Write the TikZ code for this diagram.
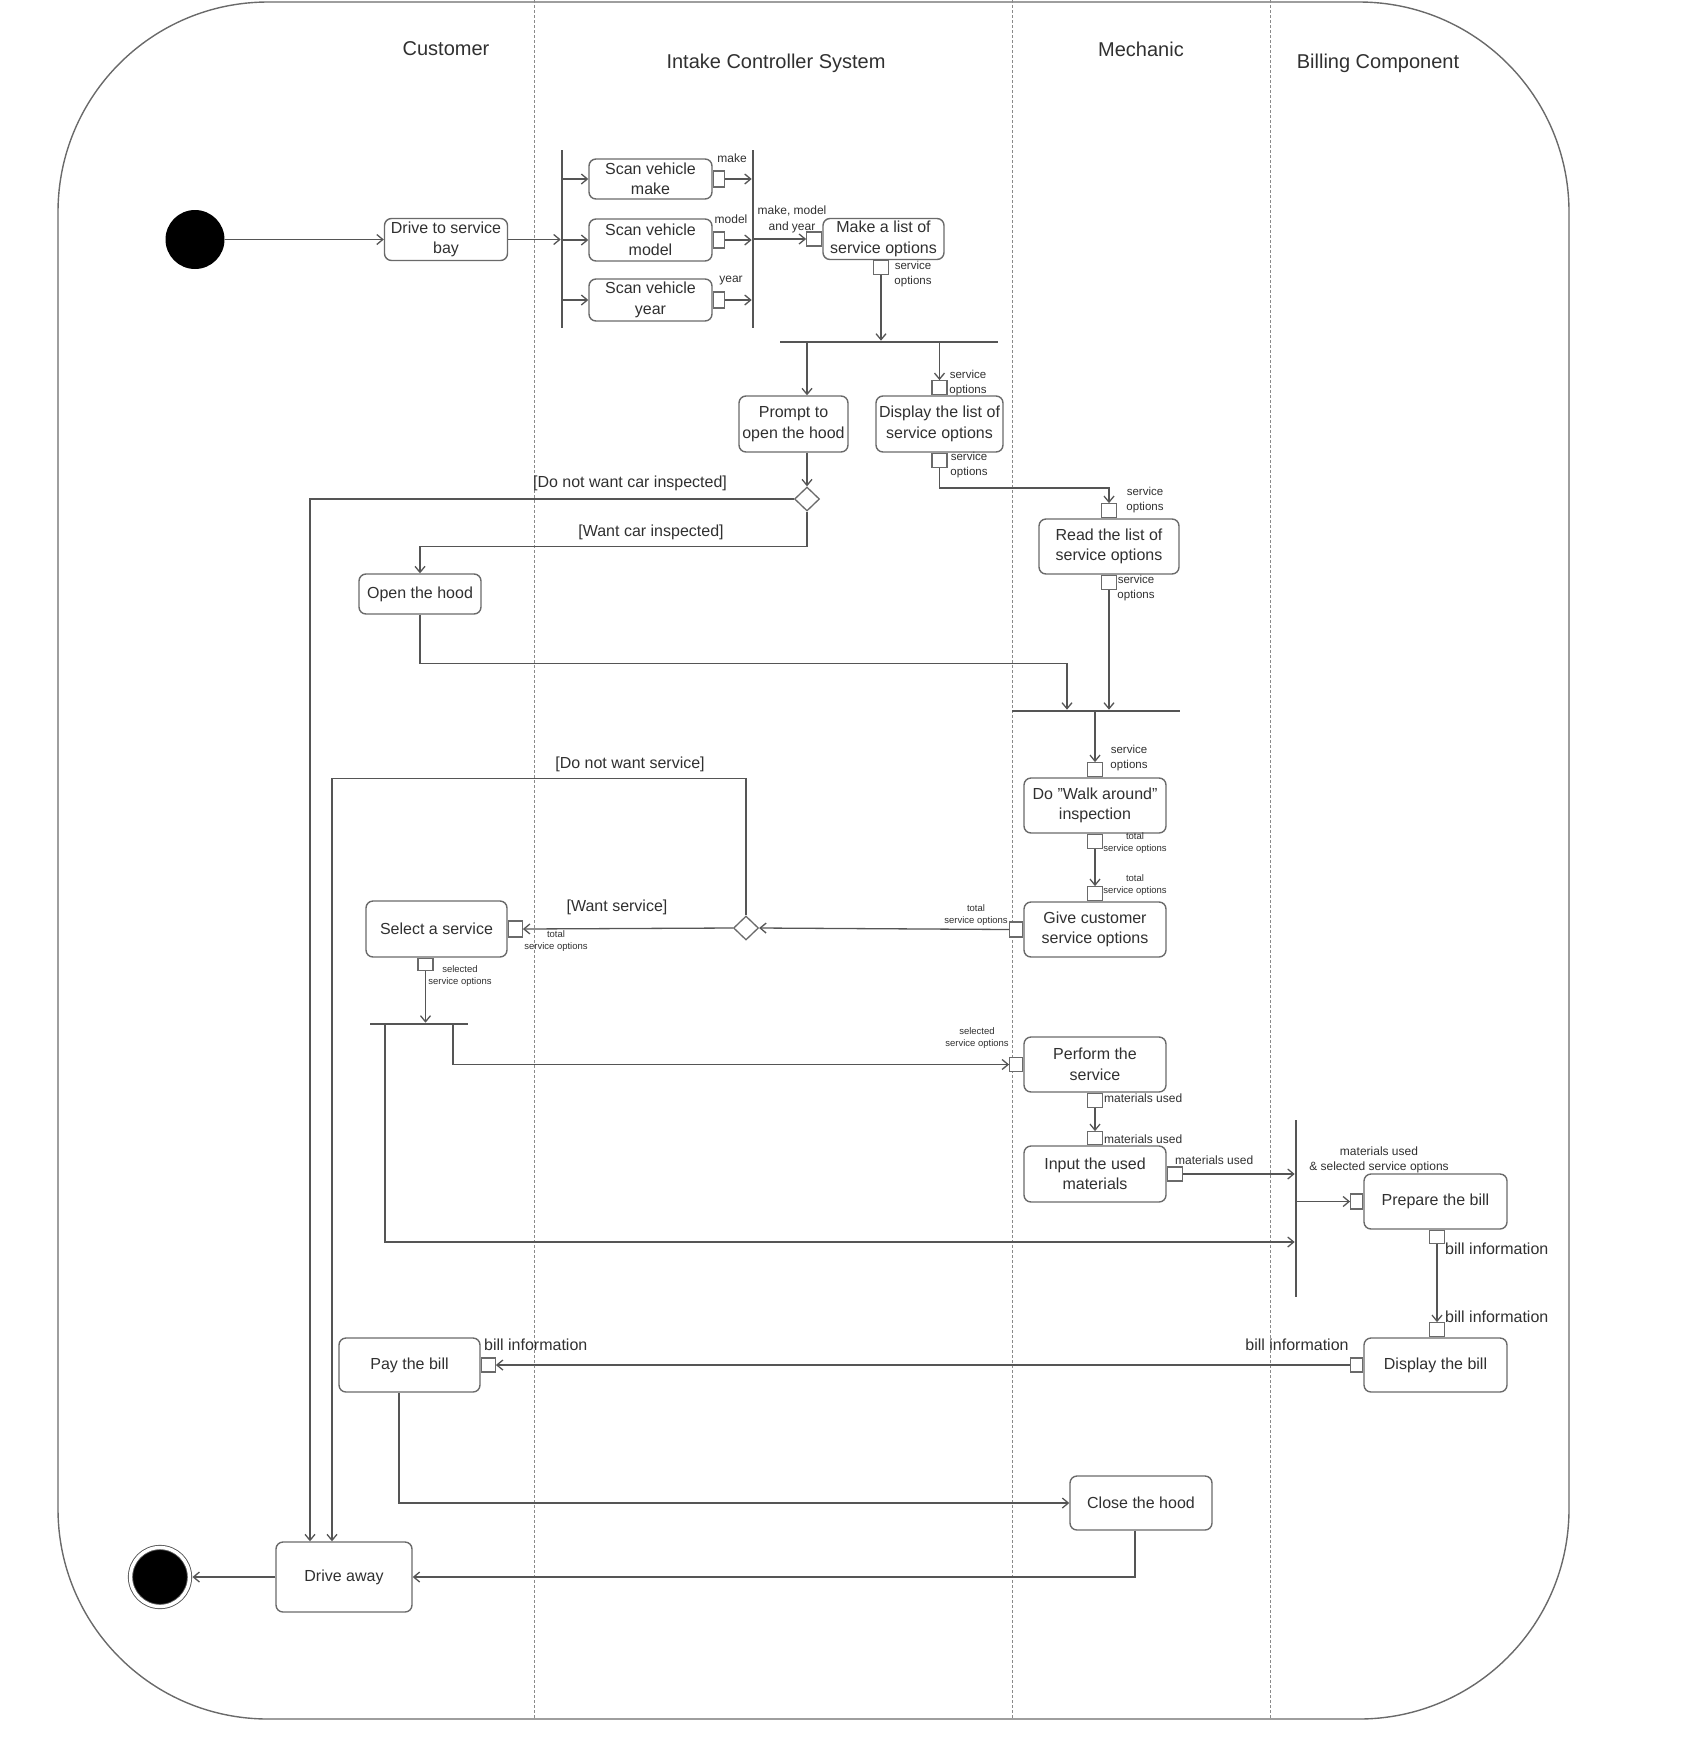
\documentclass[tikz,border=0pt]{standalone}
\usepackage{fontspec}
\setmainfont{Liberation Sans}
\usepackage{xcolor}
\usetikzlibrary{arrows.meta, shapes.geometric, positioning, calc}
\definecolor{linegray}{HTML}{555555}
\definecolor{boxgray}{HTML}{6A6A6A}
\definecolor{textgray}{HTML}{303030}
\definecolor{lanegray}{HTML}{8A8A8A}
\tikzset{
    roundnode/.style = {draw=boxgray, rectangle, rounded corners=7pt, line width=1.4pt, inner sep=0pt, 
      align=center, text=textgray, font=\fontsize{16}{20.5}\selectfont},
    pinnode/.style = {draw=boxgray, fill=white, rectangle, line width=1.2pt, inner sep=0pt, 
      minimum width=15pt, minimum height=14pt},
    barnode/.style = {fill=linegray, rectangle, inner sep=0pt},
    decisionnode/.style = {draw=boxgray, fill=white, diamond, line width=1.3pt, inner sep=0pt, 
      minimum width=25pt, minimum height=24pt},
    dotnode/.style = {fill=black, circle, inner sep=0pt, minimum size=59pt},
    endnode/.style = {fill=black, circle, inner sep=0pt, minimum size=59pt, draw=linegray, 
      line width=0.9pt, double=white, double distance=3.4pt},
    titlenode/.style = {text=textgray, inner sep=0pt, font=\fontsize{20}{24}\selectfont},
    textnode/.style  = {text=textgray, inner sep=0pt, align=center, font=\fontsize{16}{20}\selectfont},
    smalltextnode/.style = {text=textgray, inner sep=0pt, align=center, font=\fontsize{12}{15.5}\selectfont},
    pintextnode/.style = {text=textgray, inner sep=0pt, align=center, font=\fontsize{11.5}{15}\selectfont},
    tinytextnode/.style = {text=textgray, inner sep=0pt, align=center, font=\fontsize{9.5}{12}\selectfont},
    connect/.style = {draw=linegray, line width=1.3pt, -{Straight Barb[length=6pt, width=10pt]}},
    lane/.style = {draw=lanegray, line width=1pt, dash pattern=on 2.5pt off 2.5pt}
}
\begin{document}
\begin{tikzpicture}[x=1pt, y=-1pt]
\useasboundingbox (0,0) rectangle (1700,1743);
\draw[draw=boxgray, line width=1.4pt, rounded corners=210pt] (58,2) rectangle (1569,1719);
\foreach \x in {534,1012,1270} \draw[lane] (\x,0) -- (\x,1719);

\node[titlenode, name=customer] at (446,49) {Customer};
\node[titlenode, name=intake] at (776,63) {Intake Controller System};
\node[titlenode, name=mechanic] at (1141,49) {Mechanic};
\node[titlenode, name=billing] at (1378,63) {Billing Component};

\node[dotnode, name=init] at (195,239.5) {};
\node[roundnode, name=drive, minimum width=123pt, minimum height=42pt] at (446,239.5) {Drive to service\\bay};
\node[barnode, name=forkA, minimum width=2.2pt, minimum height=178pt] at (562,239) {};
\node[roundnode, name=scanmake, minimum width=123pt, minimum height=40pt] at (650.5,179) {Scan vehicle\\make};
\node[roundnode, name=scanmodel, minimum width=123pt, minimum height=42pt] at (650.5,240) {Scan vehicle\\model};
\node[roundnode, name=scanyear, minimum width=123pt, minimum height=42pt] at (650.5,300) {Scan vehicle\\year};
\node[pinnode, name=makepin, right=0pt of scanmake, minimum width=11pt, minimum height=16pt] {};
\node[pinnode, name=modelpin, right=0pt of scanmodel, minimum width=11pt, minimum height=16pt] {};
\node[pinnode, name=yearpin, right=0pt of scanyear, minimum width=11pt, minimum height=16pt] {};
\node[barnode, name=joinA, minimum width=2.2pt, minimum height=178pt] at (753,239) {};
\node[roundnode, name=makelist, minimum width=121pt, minimum height=41pt] at (883.5,239) {Make a list of\\service options};
\node[pinnode, name=listin, left=0pt of makelist] {};
\node[pinnode, name=listout, below=0pt of makelist, xshift=-2.5pt] {};
\node[barnode, name=forkB, minimum width=218pt, minimum height=2.2pt] at (889,342) {};
\node[roundnode, name=prompt, minimum width=109pt, minimum height=56pt] at (793.5,424) {Prompt to\\open the hood};
\node[roundnode, name=display, minimum width=127pt, minimum height=56pt] at (939.5,424) {Display the list of\\service options};
\node[pinnode, name=dispin, above=0pt of display] {};
\node[pinnode, name=dispout, below=0pt of display] {};
\node[decisionnode, name=diam1] at (807,499) {};
\node[roundnode, name=openhood, minimum width=122pt, minimum height=40pt] at (420,594) {Open the hood};
\node[roundnode, name=read, minimum width=140pt, minimum height=55pt] at (1109,546.5) {Read the list of\\service options};
\node[pinnode, name=readin, above=0pt of read] {};
\node[pinnode, name=readout, below=0pt of read] {};
\node[barnode, name=joinB, minimum width=168pt, minimum height=2.2pt] at (1096,711) {};
\node[roundnode, name=walk, minimum width=142pt, minimum height=55pt] at (1095,805.5) {Do "Walk around"\\inspection};
\node[pinnode, name=walkin, above=0pt of walk] {};
\node[pinnode, name=walkout, below=0pt of walk] {};
\node[roundnode, name=give, minimum width=142pt, minimum height=55pt] at (1095,929.5) {Give customer\\service options};
\node[pinnode, name=givein, above=0pt of give] {};
\node[pinnode, name=giveout, left=0pt of give, minimum width=13pt, minimum height=15pt] {};
\node[decisionnode, name=diam2] at (746,928) {};
\node[roundnode, name=select, minimum width=141pt, minimum height=56pt] at (436.5,929) {Select a service};
\node[pinnode, name=selin, right=0pt of select, minimum width=14pt, minimum height=16pt] {};
\node[pinnode, name=selout, below=0pt of select, xshift=-11pt, minimum height=12pt] {};
\node[barnode, name=forkC, minimum width=98pt, minimum height=2.2pt] at (419,1024) {};
\node[roundnode, name=perform, minimum width=142pt, minimum height=55pt] at (1095,1064.5) {Perform the\\service};
\node[pinnode, name=perfin, left=0pt of perform, minimum width=13pt] {};
\node[pinnode, name=perfout, below=0pt of perform] {};
\node[roundnode, name=input, minimum width=142pt, minimum height=56pt] at (1095,1174) {Input the used\\materials};
\node[pinnode, name=inpin, above=0pt of input, minimum height=13pt] {};
\node[pinnode, name=inout, right=0pt of input] {};
\node[barnode, name=joinC, minimum width=2.2pt, minimum height=177pt] at (1296,1208.5) {};
\node[roundnode, name=prepare, minimum width=143pt, minimum height=55pt] at (1435.5,1201.5) {Prepare the bill};
\node[pinnode, name=prepin, left=0pt of prepare, minimum width=12pt, minimum height=15pt] {};
\node[pinnode, name=prepout, below=0pt of prepare, xshift=1.5pt, minimum height=13pt] {};
\node[roundnode, name=dispbill, minimum width=143pt, minimum height=54pt] at (1435.5,1365) {Display the bill};
\node[pinnode, name=dispbin, above=0pt of dispbill, xshift=1.5pt] {};
\node[pinnode, name=dispbout, left=0pt of dispbill, minimum width=12pt] {};
\node[roundnode, name=pay, minimum width=141pt, minimum height=54pt] at (409.5,1365) {Pay the bill};
\node[pinnode, name=payin, right=0pt of pay, minimum width=14pt] {};
\node[roundnode, name=close, minimum width=142pt, minimum height=54pt] at (1141,1503) {Close the hood};
\node[roundnode, name=driveaway, minimum width=136pt, minimum height=70pt] at (344,1577) {Drive away};
\node[endnode, name=final] at (160,1577) {};

\node[smalltextnode, name=makelbl] at (732,158) {make};
\node[smalltextnode, name=modellbl] at (731,219) {model};
\node[smalltextnode, name=yearlbl] at (731,281) {year};
\node[smalltextnode, name=mmylbl, font=\fontsize{12}{16}\selectfont] at (792,219) {make, model\\and year};
\node[pintextnode, name=listlbl] at (913,274) {service\\options};
\node[pintextnode, name=dispinlbl] at (968,383) {service\\options};
\node[pintextnode, name=dispoutlbl] at (969,465) {service\\options};
\node[pintextnode, name=readinlbl] at (1145,500) {service\\options};
\node[pintextnode, name=readoutlbl] at (1136,588) {service\\options};
\node[textnode, name=noinspect] at (630,483) {[Do not want car inspected]};
\node[textnode, name=inspect] at (651,532) {[Want car inspected]};
\node[pintextnode, name=walkinlbl] at (1129,758) {service\\options};
\node[tinytextnode, name=walkoutlbl] at (1135,843) {total\\service options};
\node[tinytextnode, name=giveinlbl] at (1135,885) {total\\service options};
\node[tinytextnode, name=giveoutlbl] at (976,915) {total\\service options};
\node[textnode, name=noservice] at (630,764) {[Do not want service]};
\node[textnode, name=service] at (617,907) {[Want service]};
\node[tinytextnode, name=selinlbl] at (556,941) {total\\service options};
\node[tinytextnode, name=seloutlbl] at (460,976) {selected\\service options};
\node[tinytextnode, name=perfinlbl] at (977,1038) {selected\\service options};
\node[smalltextnode, name=perfoutlbl, anchor=west] at (1104,1098) {materials used};
\node[smalltextnode, name=inpinlbl, anchor=west] at (1104,1139) {materials used};
\node[smalltextnode, name=inoutlbl, anchor=west] at (1175,1160) {materials used};
\node[smalltextnode, name=prepinlbl, font=\fontsize{12}{15}\selectfont] at (1379,1160) {materials used\\\& selected service options};
\node[textnode, name=prepoutlbl, anchor=west] at (1445,1249) {bill information};
\node[textnode, name=dispbinlbl, anchor=west] at (1445,1317) {bill information};
\node[textnode, name=dispboutlbl] at (1297,1345) {bill information};
\node[textnode, name=payinlbl, anchor=west] at (484,1345) {bill information};

\draw[connect] (init.east) -- (drive.west);
\draw[connect] (drive.east) -- (drive.east -| forkA.west);
\foreach \scan in {scanmake, scanmodel, scanyear}
  \draw[connect] (forkA.east |- \scan) -- (\scan.west);
\foreach \pin in {makepin, modelpin, yearpin}
  \draw[connect] (\pin.east) -- (\pin.east -| joinA.west);
\draw[connect] (joinA.east |- listin) -- (listin.west);
\draw[connect] (listout.south) -- (listout.south |- forkB.north);
\draw[connect] (forkB.south -| diam1) -- (prompt.north -| diam1);
\draw[connect] (forkB.south -| dispin) -- (dispin.north);
\draw[connect] (prompt.south -| diam1) -- (diam1.north);
\draw[connect] (dispout.south) -- ++(0,20) -| (readin.north);
\draw[connect] (diam1.west) -| ([xshift=-34pt]driveaway.north);
\draw[connect] (diam1.south) -- ++(0,35) -| (openhood.north);
\draw[connect] (openhood.south) -- ++(0,49) -| ([xshift=-29pt]joinB.north);
\draw[connect] (readout.south) -- (readout.south |- joinB.north);
\draw[connect] (joinB.south -| walkin) -- (walkin.north);
\draw[connect] (walkout.south) -- (givein.north);
\draw[connect] (giveout.west) -- (diam2.east);
\draw[connect] (diam2.west) -- (selin.east);
\draw[connect] (diam2.north) -- ++(0,-137) -| ([xshift=-12pt]driveaway.north);
\draw[connect] (selout.south) -- (selout.south |- forkC.north);
\draw[connect] ([xshift=-34pt]forkC.south) |- ([yshift=-33.5pt]joinC.west);
\draw[connect] ([xshift=34pt]forkC.south) |- (perfin.west);
\draw[connect] (perfout.south) -- (inpin.north);
\draw[connect] (inout.east) -- (inout.east -| joinC.west);
\draw[connect] (joinC.east |- prepin) -- (prepin.west);
\draw[connect] (prepout.south) -- (dispbin.north);
\draw[connect] (dispbout.west) -- (payin.east);
\draw[connect] ([xshift=-10.5pt]pay.south) |- (close.west);
\draw[connect] ([xshift=-6pt]close.south) |- (driveaway.east);
\draw[connect, shorten >=2.5pt] (driveaway.west) -- (final.east);
\end{tikzpicture}
\end{document}
